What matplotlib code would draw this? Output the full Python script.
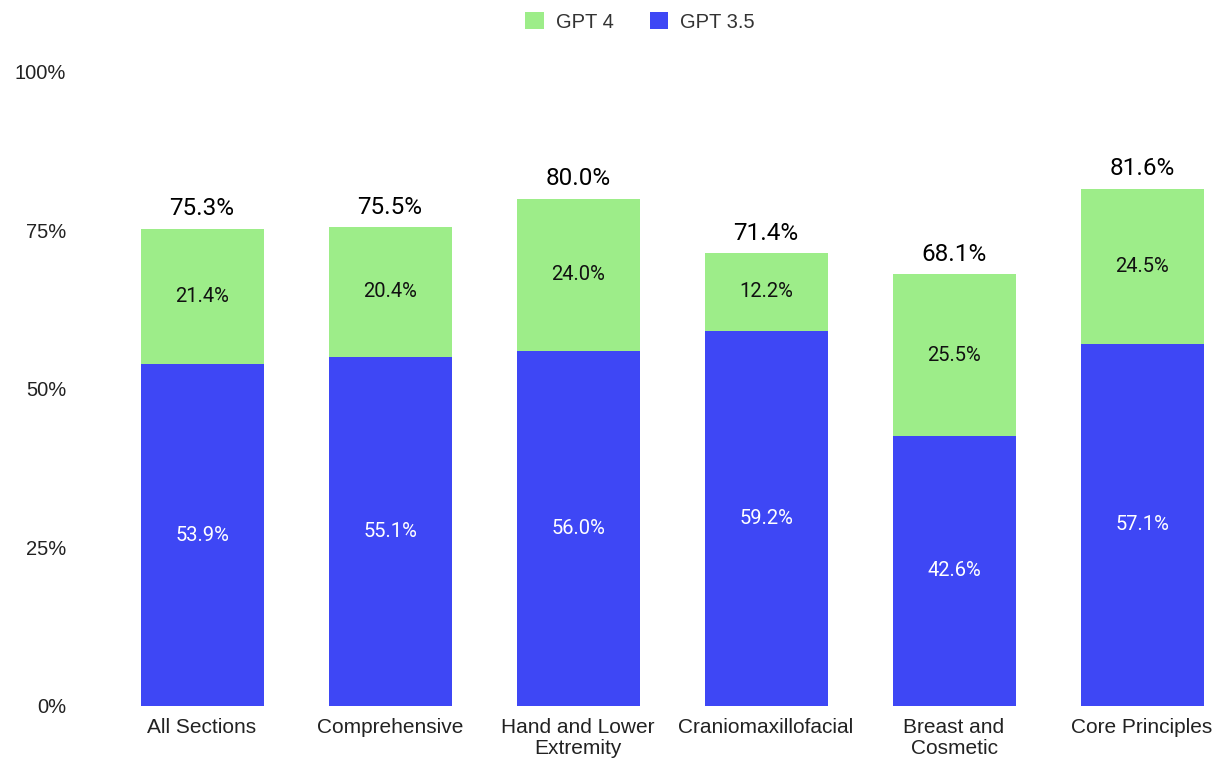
import matplotlib.pyplot as plt
import numpy as np

categories = ['All Sections', 'Comprehensive', 'Hand and Lower\nExtremity',
              'Craniomaxillofacial', 'Breast and\nCosmetic', 'Core Principles']
gpt35 = [53.9, 55.1, 56.0, 59.2, 42.6, 57.1]
gpt4_extra = [21.4, 20.4, 24.0, 12.2, 25.5, 24.5]
totals = [75.3, 75.5, 80.0, 71.4, 68.1, 81.6]
yticks = [0, 25, 50, 75, 100]

blue = '#3e47f5'
green = '#9ded89'

plt.rcParams['font.family'] = ['Liberation Sans', 'DejaVu Sans']

fig = plt.figure(figsize=(12.22, 7.6), dpi=100)
ax = fig.add_axes([0.0961, 0.0711, 0.8923, 0.8342])

x = np.arange(len(categories))
w = 0.654
b1 = ax.bar(x, gpt35, w, color=blue, label='GPT 3.5')
b2 = ax.bar(x, gpt4_extra, w, bottom=gpt35, color=green, label='GPT 4')

for i in range(len(x)):
    ax.text(x[i], gpt35[i] / 2, f'{gpt35[i]:.1f}%', ha='center', va='center',
            color='white', fontsize=14.5, family='Roboto')
    ax.text(x[i], gpt35[i] + gpt4_extra[i] / 2, f'{gpt4_extra[i]:.1f}%',
            ha='center', va='center', color='#111111', fontsize=14.5, family='Roboto')
    ax.annotate(f'{totals[i]:.1f}%', (x[i], totals[i]), xytext=(0, 6),
                textcoords='offset points', ha='center', va='bottom',
                fontsize=17.5, family='Roboto', color='black')

ax.set_xlim(-0.45, 5.35)
ax.set_ylim(0, 100)
ax.set_yticks(yticks)
ax.set_yticklabels([f'{t}%' for t in yticks])
ax.set_xticks(x)
ax.set_xticklabels(categories, linespacing=1.1)
ax.tick_params(axis='y', length=0, pad=37, labelsize=14.5, labelcolor='#222222')
ax.tick_params(axis='x', length=0, pad=9, labelsize=15, labelcolor='#222222')
for s in ax.spines.values():
    s.set_visible(False)

fig.legend(handles=[b2, b1], labels=['GPT 4', 'GPT 3.5'], loc='center',
           bbox_to_anchor=(640 / 1222, 0.971), ncol=2, frameon=False,
           fontsize=14.5, handlelength=0.9, handleheight=0.9,
           columnspacing=1.8, handletextpad=0.6, labelcolor='#333333')

fig.savefig('out.png', dpi=100)
